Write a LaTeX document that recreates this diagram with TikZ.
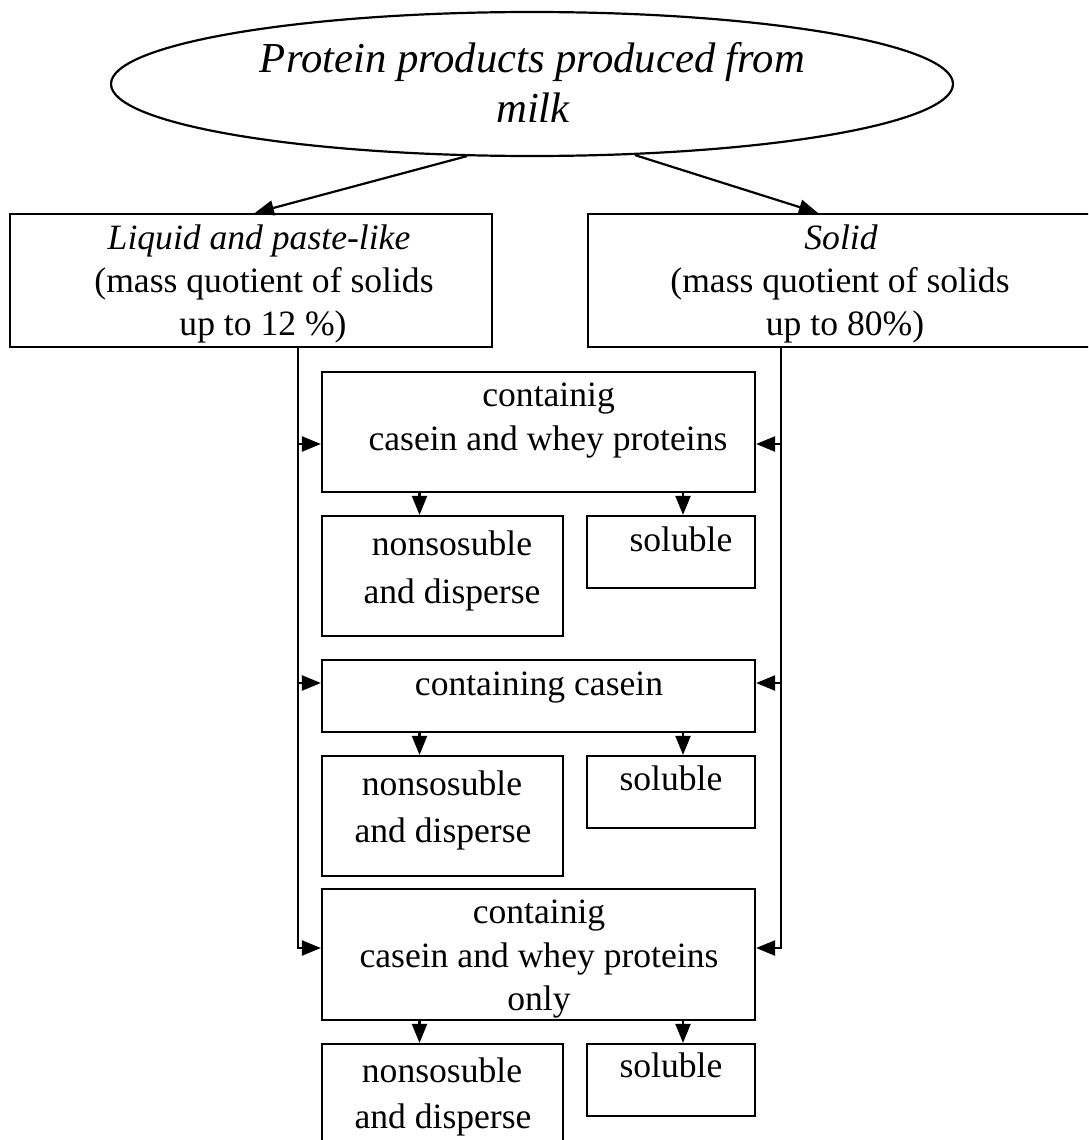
\documentclass[tikz,border=0pt]{standalone}
\usepackage{fontspec}
\setmainfont{Liberation Serif}
\usetikzlibrary{arrows.meta,shapes.geometric,calc}
\begin{document}
\begin{tikzpicture}[x=1pt,y=-1pt,
  line width=2.2pt,
  box/.style={draw,rectangle,inner sep=0pt,line width=2.2pt},
  txt/.style={inner sep=0pt,anchor=base,font=\fontsize{35.6}{44}\selectfont},
  itxt/.style={txt,font=\fontsize{35.6}{44}\selectfont\itshape},
  arr/.style={-{Triangle[length=19pt,width=15pt]}}]
\useasboundingbox (0,0) rectangle (1088,1140);
\clip (0,0) rectangle (1088,1140);

% root ellipse
\node[draw,ellipse,line width=2.2pt,inner sep=0pt,minimum width=842pt,minimum height=144pt] (top) at (532,84) {};
\node[inner sep=0pt,anchor=base,font=\fontsize{42.7}{50}\selectfont\itshape] (topa) at (532.5,72) {Protein products produced from};
\node[inner sep=0pt,anchor=base,font=\fontsize{42.7}{50}\selectfont\itshape] (topb) at (533,122) {milk};

% two main categories
\node[box,minimum width=482pt,minimum height=133pt] (L) at (251,280.5) {};
\node[itxt] (La) at (259,249) {Liquid and paste-like};
\node[txt] (Lb) at (264,292) {(mass quotient of solids};
\node[txt] (Lc) at (263,335) {up to 12 \%)};

\node[box,minimum width=520pt,minimum height=133pt] (R) at (848,280.5) {};
\node[itxt] (Ra) at (841,249) {Solid};
\node[txt] (Rb) at (840,292) {(mass quotient of solids};
\node[txt] (Rc) at (845,335) {up to 80\%)};

% protein groups
\node[box,minimum width=433pt,minimum height=120pt] (b1) at (538.5,432) {};
\node[txt] (b1a) at (548.6,406) {containig};
\node[txt] (b1b) at (548,450) {casein and whey proteins};

\node[box,minimum width=241pt,minimum height=120pt] (n1) at (442.5,576) {};
\node[txt] (n1a) at (452,555) {nonsosuble};
\node[txt] (n1b) at (452,603) {and disperse};
\node[box,minimum width=168pt,minimum height=72pt] (s1) at (671,552) {};
\node[txt] (s1a) at (681,551) {soluble};

\node[box,minimum width=433pt,minimum height=72pt] (b2) at (538.5,696) {};
\node[txt] (b2a) at (539,695) {containing casein};

\node[box,minimum width=241pt,minimum height=120pt] (n2) at (442.5,816) {};
\node[txt] (n2a) at (442,795) {nonsosuble};
\node[txt] (n2b) at (443,842) {and disperse};
\node[box,minimum width=168pt,minimum height=72pt] (s2) at (671,792) {};
\node[txt] (s2a) at (671,790) {soluble};

\node[box,minimum width=433pt,minimum height=131pt] (b3) at (538.5,954.5) {};
\node[txt] (b3a) at (539,923) {containig};
\node[txt] (b3b) at (539,967) {casein and whey proteins};
\node[txt] (b3c) at (539,1010) {only};

\node[box,minimum width=241pt,minimum height=120pt] (n3) at (442.5,1104) {};
\node[txt] (n3a) at (442,1082) {nonsosuble};
\node[txt] (n3b) at (443,1128) {and disperse};
\node[box,minimum width=168pt,minimum height=72pt] (s3) at (671,1080) {};
\node[txt] (s3a) at (671,1077) {soluble};

% branches from the root
\draw[arr] ($(top.south)+(-65,-1)$) -- ($(L.north west)+(246,0)$);
\draw[arr] ($(top.south)+(103,-2)$) -- ($(R.north west)+(231,0)$);

% side rails
\coordinate (lrail) at (298,347);
\coordinate (rrail) at (781,347);
\coordinate (e1l) at ($(b1.west)+(0,12)$);
\coordinate (e1r) at ($(b1.east)+(0,12)$);
\coordinate (e2l) at ($(b2.west)+(0,-13)$);
\coordinate (e2r) at ($(b2.east)+(0,-13)$);
\coordinate (e3l) at ($(b3.west)+(0,-6.5)$);
\coordinate (e3r) at ($(b3.east)+(0,-6.5)$);

\draw[arr] (lrail) |- (e3l);
\draw[arr] (rrail) |- (e3r);
\draw[arr] (lrail |- e1l) -- (e1l);
\draw[arr] (rrail |- e1r) -- (e1r);
\draw[arr] (lrail |- e2l) -- (e2l);
\draw[arr] (rrail |- e2r) -- (e2r);

% splits into insoluble / soluble
\draw[arr] (b1.south -| 419.5,0) -- (n1.north -| 419.5,0);
\draw[arr] (b1.south -| 683,0) -- (s1.north -| 683,0);
\draw[arr] (b2.south -| 419.5,0) -- (n2.north -| 419.5,0);
\draw[arr] (b2.south -| 683,0) -- (s2.north -| 683,0);
\draw[arr] (b3.south -| 419.5,0) -- (n3.north -| 419.5,0);
\draw[arr] (b3.south -| 683,0) -- (s3.north -| 683,0);
\end{tikzpicture}
\end{document}
